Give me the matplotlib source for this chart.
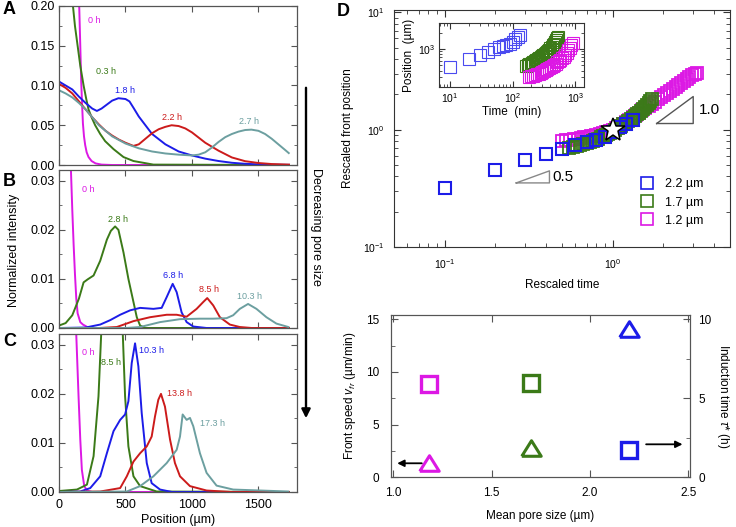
import matplotlib
matplotlib.use('Agg')
import matplotlib.pyplot as plt
from matplotlib.ticker import MultipleLocator, FormatStrFormatter, NullFormatter
from matplotlib.lines import Line2D

plt.rcParams['font.family'] = ['Liberation Sans', 'DejaVu Sans']
plt.rcParams['mathtext.fontset'] = 'custom'
plt.rcParams['mathtext.rm'] = 'Liberation Sans'
plt.rcParams['mathtext.it'] = 'Liberation Sans:italic'
plt.rcParams['mathtext.bf'] = 'Liberation Sans:bold'

# ---------------- data: panel A (profiles, large pores) ----------------
A_labels = ['0 h', '0.3 h', '1.8 h', '2.2 h', '2.7 h']
A_x_0h = [0, 60, 100, 130, 152, 160, 167, 174, 180, 188, 197, 208, 222, 245, 275, 320, 400, 1730]
A_y_0h = [1.2, 0.6, 0.40, 0.27, 0.20, 0.15, 0.105, 0.075, 0.052, 0.036, 0.025, 0.016, 0.01, 0.005, 0.002, 0.0005, 0, 0]
A_x_03h = [0, 50, 80, 105, 120, 140, 160, 185, 205, 222, 245, 272, 310, 347, 410, 485, 560, 710, 1730]
A_y_03h = [0.6, 0.4, 0.28, 0.20, 0.175, 0.15, 0.125, 0.10, 0.083, 0.07, 0.06, 0.05, 0.039, 0.03, 0.02, 0.01, 0.005, 0.0005, 0.0]
A_x_18h = [0, 50, 100, 150, 200, 250, 285, 320, 360, 400, 447, 500, 530, 560, 600, 650, 700, 800, 900, 1000, 1100, 1200, 1300, 1400, 1500, 1600, 1730]
A_y_18h = [0.105, 0.1, 0.095, 0.086, 0.078, 0.071, 0.068, 0.071, 0.076, 0.081, 0.084, 0.083, 0.08, 0.072, 0.061, 0.05, 0.039, 0.026, 0.017, 0.012, 0.008, 0.005, 0.0028, 0.0015, 0.0008, 0.0004, 0.0002]
A_x_22h = [0, 50, 100, 150, 200, 250, 300, 350, 400, 450, 500, 560, 600, 650, 700, 750, 800, 847, 900, 950, 1000, 1100, 1200, 1300, 1400, 1500, 1600, 1730]
A_y_22h = [0.102, 0.097, 0.09, 0.08, 0.07, 0.06, 0.051, 0.043, 0.037, 0.032, 0.028, 0.024, 0.026, 0.033, 0.04, 0.045, 0.048, 0.05, 0.049, 0.046, 0.041, 0.028, 0.018, 0.0095, 0.0048, 0.0025, 0.0012, 0.0005]
A_x_27h = [0, 50, 100, 150, 200, 250, 300, 400, 500, 600, 700, 800, 900, 1000, 1050, 1100, 1150, 1200, 1250, 1300, 1350, 1400, 1447, 1500, 1550, 1600, 1650, 1700, 1728]
A_y_27h = [0.094, 0.09, 0.085, 0.078, 0.07, 0.06, 0.05, 0.036, 0.027, 0.021, 0.017, 0.0145, 0.013, 0.012, 0.013, 0.016, 0.022, 0.029, 0.035, 0.039, 0.042, 0.044, 0.0445, 0.043, 0.039, 0.033, 0.026, 0.019, 0.015]

# ---------------- data: panel B ----------------
B_labels = ['0 h', '2.8 h', '6.8 h', '8.5 h', '10.3 h']
B_x_0h = [0, 60, 80, 90, 100, 110, 120, 130, 140, 160, 180, 200, 225, 300, 1730]
B_y_0h = [0.15, 0.05, 0.038, 0.032, 0.024, 0.017, 0.011, 0.006, 0.003, 0.0012, 0.0007, 0.0004, 0.0, 0.0, 0.0]
B_x_28h = [0, 50, 100, 150, 185, 215, 260, 310, 360, 390, 422, 447, 485, 522, 560, 585, 610, 650, 1730]
B_y_28h = [0.0005, 0.001, 0.0026, 0.006, 0.0093, 0.0099, 0.0107, 0.0137, 0.018, 0.0198, 0.0207, 0.02, 0.0154, 0.01, 0.0053, 0.0022, 0.0005, 0.0, 0.0]
B_x_68h = [0, 200, 310, 385, 460, 535, 610, 710, 772, 810, 855, 885, 922, 960, 1010, 1110, 1730]
B_y_68h = [0, 0.0001, 0.0007, 0.0016, 0.0027, 0.0036, 0.0041, 0.0039, 0.0041, 0.0063, 0.009, 0.0073, 0.0032, 0.0012, 0.0003, 0.0, 0.0]
B_x_85h = [0, 300, 435, 560, 685, 810, 885, 960, 1035, 1085, 1115, 1160, 1210, 1285, 1360, 1450, 1730]
B_y_85h = [0, 0, 0.0002, 0.0014, 0.0022, 0.0027, 0.0027, 0.0023, 0.0039, 0.0053, 0.0061, 0.0046, 0.0022, 0.0007, 0.0002, 0.0, 0.0]
B_x_103h = [0, 500, 610, 760, 910, 1060, 1160, 1260, 1310, 1360, 1422, 1485, 1560, 1635, 1725]
B_y_103h = [0, 0, 0.0002, 0.0012, 0.0018, 0.0019, 0.0019, 0.002, 0.0026, 0.0039, 0.0049, 0.0039, 0.0022, 0.0009, 0.0002]

# ---------------- data: panel C ----------------
C_labels = ['0 h', '8.5 h', '10.3 h', '13.8 h', '17.3 h']
C_x_0h = [0, 80, 110, 130, 147, 160, 172, 190, 210, 250, 1730]
C_y_0h = [0.2, 0.08, 0.045, 0.032, 0.0195, 0.0107, 0.0045, 0.0012, 0.0003, 0.0, 0.0]
C_x_85h = [0, 135, 210, 260, 297, 317, 350, 400, 450, 480, 497, 522, 560, 610, 735, 1730]
C_y_85h = [0.0002, 0.0005, 0.0015, 0.0073, 0.0195, 0.032, 0.05, 0.06, 0.05, 0.032, 0.0195, 0.0093, 0.0032, 0.0012, 0.0001, 0.0]
C_x_103h = [0, 160, 235, 310, 360, 410, 460, 497, 522, 547, 572, 597, 622, 660, 697, 760, 850, 1730]
C_y_103h = [0, 0.0001, 0.0008, 0.0032, 0.0079, 0.0124, 0.0147, 0.0158, 0.0185, 0.0263, 0.0303, 0.0256, 0.0161, 0.0059, 0.0018, 0.0005, 0.0, 0.0]
C_x_138h = [0, 310, 460, 510, 560, 610, 660, 697, 722, 747, 767, 797, 835, 872, 910, 985, 1110, 1300, 1730]
C_y_138h = [0, 0.0001, 0.0008, 0.0032, 0.0062, 0.0079, 0.0093, 0.0113, 0.0154, 0.0188, 0.02, 0.0174, 0.0107, 0.0059, 0.0032, 0.0012, 0.0003, 0.0, 0.0]
C_x_173h = [0, 510, 610, 710, 810, 885, 910, 930, 960, 985, 1010, 1060, 1110, 1185, 1310, 1725]
C_y_173h = [0, 0.0001, 0.0012, 0.0032, 0.0059, 0.0086, 0.0113, 0.0158, 0.0147, 0.0151, 0.0134, 0.0079, 0.0039, 0.0013, 0.0005, 0.0001]

# ---------------- data: panel D (rescaled front) ----------------
D_labels = ['2.2 \u00b5m', '1.7 \u00b5m', '1.2 \u00b5m']
D_t_blue = [0.1, 0.2, 0.3, 0.4, 0.5, 0.6, 0.7, 0.8, 0.9, 1.0, 1.1, 1.2, 1.33]
D_y_blue = [0.32, 0.45, 0.55, 0.62, 0.69, 0.74, 0.78, 0.82, 0.87, 0.95, 1.05, 1.13, 1.22]
D_t_green = [0.55, 0.58, 0.61, 0.64, 0.67, 0.70, 0.73, 0.76, 0.79, 0.82, 0.85, 0.88, 0.91, 0.94, 0.97, 1.00, 1.04, 1.08,
             1.12, 1.16, 1.20, 1.24, 1.28, 1.32, 1.36, 1.40, 1.44, 1.48, 1.52, 1.56, 1.60, 1.64, 1.68, 1.72]
D_y_green = [0.70, 0.71, 0.72, 0.74, 0.75, 0.77, 0.78, 0.80, 0.82, 0.84, 0.86, 0.88, 0.90, 0.92, 0.94, 0.96, 0.99, 1.03,
             1.07, 1.11, 1.15, 1.19, 1.23, 1.27, 1.31, 1.36, 1.40, 1.45, 1.50, 1.55, 1.62, 1.68, 1.75, 1.82]
D_t_mag = [0.50, 0.53, 0.56, 0.59, 0.62, 0.65, 0.68, 0.71, 0.74, 0.77, 0.80, 0.84, 0.88, 0.92, 0.96, 1.00, 1.05, 1.10,
           1.15, 1.20, 1.26, 1.32, 1.38, 1.44, 1.50, 1.57, 1.64, 1.71, 1.78, 1.86, 1.94, 2.02, 2.10, 2.19, 2.28, 2.37,
           2.46, 2.56, 2.66, 2.76, 2.86, 2.97, 3.08, 3.20]
D_y_mag = [0.80, 0.81, 0.82, 0.83, 0.84, 0.85, 0.86, 0.87, 0.88, 0.89, 0.90, 0.92, 0.94, 0.96, 0.98, 1.00, 1.04, 1.08,
           1.12, 1.17, 1.22, 1.28, 1.34, 1.40, 1.46, 1.53, 1.60, 1.67, 1.74, 1.82, 1.90, 1.98, 2.06, 2.15, 2.24, 2.33,
           2.42, 2.52, 2.62, 2.72, 2.82, 2.93, 3.00, 3.05]
D_star_t = [1.0]
D_star_y = [1.0]
slope_half_x = [0.267, 0.421, 0.421, 0.267]
slope_half_y = [0.352, 0.352, 0.446, 0.352]
slope_one_x = [1.83, 3.02, 3.02, 1.83]
slope_one_y = [1.13, 1.13, 1.92, 1.13]

# inset: raw front position vs time
I_t_blue = [10, 20, 30, 40, 50, 60, 70, 80, 90, 100, 110, 120, 130]
I_p_blue = [460, 650, 790, 890, 990, 1070, 1130, 1190, 1260, 1370, 1520, 1640, 1770]
I_t_green = [165, 175, 185, 195, 205, 215, 225, 235, 245, 255, 265, 280, 295, 310, 325, 340, 355, 370, 385, 400, 420,
             440, 460, 480, 500, 520, 540]
I_p_green = [480, 500, 520, 540, 560, 580, 600, 620, 640, 660, 680, 710, 745, 780, 815, 850, 890, 930, 975, 1020, 1090,
             1170, 1260, 1360, 1460, 1560, 1665]
I_t_mag = [185, 200, 215, 230, 245, 260, 280, 300, 320, 340, 360, 385, 410, 435, 460, 490, 520, 550, 580, 615, 650, 690,
           730, 770, 815, 860, 906]
I_p_mag = [311, 318, 325, 333, 341, 350, 362, 375, 390, 405, 420, 440, 462, 485, 510, 540, 572, 606, 640, 680, 725, 780,
           840, 960, 1060, 1170, 1290]

# ---------------- data: panel E ----------------
E_pore = [1.18, 1.70, 2.20]
E_speed = [1.38, 2.81, 14.03]
E_induction = [5.89, 5.95, 1.73]

MAG = '#dc18e4'
GRN = '#3b7a18'
BLU = '#1c1ce8'
RED = '#cc1b1b'
TEAL = '#6c9fa0'
SP = '#555555'

W, H = 736, 527
fig = plt.figure(figsize=(W / 100, H / 100), dpi=100)


def add_ax(l, t, r, b):
    return fig.add_axes([l / W, 1 - b / H, (r - l) / W, (b - t) / H])


def style_profile(ax, ymax, major, minor, show_x):
    ax.set_xlim(0, 1790)
    ax.set_ylim(0, ymax)
    ax.xaxis.set_major_locator(MultipleLocator(500))
    ax.yaxis.set_major_locator(MultipleLocator(major))
    ax.yaxis.set_minor_locator(MultipleLocator(minor))
    ax.yaxis.set_major_formatter(FormatStrFormatter('%.2f'))
    ax.tick_params(which='both', direction='in', top=True, right=True, color=SP, labelsize=9)
    ax.tick_params(axis='x', pad=5)
    ax.tick_params(axis='y', pad=3)
    ax.tick_params(which='major', length=4.5)
    ax.tick_params(which='minor', length=2.5)
    for s in ax.spines.values():
        s.set_color(SP)
        s.set_linewidth(0.9)
    if not show_x:
        ax.tick_params(labelbottom=False)


colors5 = [MAG, GRN, BLU, RED, TEAL]
LW = 1.4

# Panel A
axA = add_ax(59, 6, 297, 165)
for xs, ys, c in zip([A_x_0h, A_x_03h, A_x_18h, A_x_22h, A_x_27h],
                     [A_y_0h, A_y_03h, A_y_18h, A_y_22h, A_y_27h], colors5):
    axA.plot(xs, ys, color=c, lw=LW)
style_profile(axA, 0.20, 0.05, 0.025, False)
for lab, (x, y), c in zip(A_labels, [(215, 0.182), (277, 0.118), (422, 0.0936), (777, 0.0596), (1355, 0.0545)], colors5):
    axA.text(x, y, lab, color=c, fontsize=6.5, ha='left', va='center')

# Panel B
axB = add_ax(59, 170, 297, 328)
for xs, ys, c in zip([B_x_0h, B_x_28h, B_x_68h, B_x_85h, B_x_103h],
                     [B_y_0h, B_y_28h, B_y_68h, B_y_85h, B_y_103h], colors5):
    axB.plot(xs, ys, color=c, lw=LW)
style_profile(axB, 0.0322, 0.01, 0.005, False)
for lab, (x, y), c in zip(B_labels, [(172, 0.0282), (372, 0.0222), (785, 0.0108), (1055, 0.0078), (1340, 0.0064)], colors5):
    axB.text(x, y, lab, color=c, fontsize=6.5, ha='left', va='center')

# Panel C
axC = add_ax(59, 334, 297, 492)
for xs, ys, c in zip([C_x_0h, C_x_85h, C_x_103h, C_x_138h, C_x_173h],
                     [C_y_0h, C_y_85h, C_y_103h, C_y_138h, C_y_173h], colors5):
    axC.plot(xs, ys, color=c, lw=LW)
style_profile(axC, 0.0322, 0.01, 0.005, True)
axC.set_xlabel('Position (\u00b5m)', fontsize=9, labelpad=2)
for lab, (x, y), c in zip(C_labels, [(172, 0.0285), (317, 0.0263), (605, 0.0289), (815, 0.0200), (1060, 0.0140)], colors5):
    axC.text(x, y, lab, color=c, fontsize=6.5, ha='left', va='center')

fig.text(14 / W, 1 - 250 / H, 'Normalized intensity', rotation=90, ha='center', va='center', fontsize=9)
fig.text(3 / W, 1 - 10 / H, 'A', fontsize=13, fontweight='bold', ha='left', va='center')
fig.text(3 / W, 1 - 182 / H, 'B', fontsize=13, fontweight='bold', ha='left', va='center')
fig.text(3 / W, 1 - 341 / H, 'C', fontsize=13, fontweight='bold', ha='left', va='center')
fig.text(337 / W, 1 - 11 / H, 'D', fontsize=13, fontweight='bold', ha='left', va='center')

# Decreasing pore size arrow
fig.add_artist(matplotlib.patches.FancyArrowPatch((306 / W, 1 - 85 / H), (306 / W, 1 - 421 / H),
                                                   transform=fig.transFigure, arrowstyle='-|>',
                                                   mutation_scale=13, lw=1.7, color='k'))
fig.text(316 / W, 1 - 227 / H, 'Decreasing pore size', rotation=-90, ha='center', va='center', fontsize=9)

# Panel D
axD = add_ax(394, 10, 730, 247)
axD.set_xscale('log')
axD.set_yscale('log')
axD.plot(D_t_mag, D_y_mag, 's', mfc='none', mec=MAG, ms=9, mew=1.3, ls='none')
axD.plot(D_t_green, D_y_green, 's', mfc='none', mec=GRN, ms=9, mew=1.3, ls='none')
axD.plot(D_t_blue, D_y_blue, 's', mfc='none', mec=BLU, ms=9, mew=1.5, ls='none')
axD.plot(D_star_t, D_star_y, '*', mfc='white', mec='k', ms=18, mew=1.1, ls='none')
axD.plot(slope_half_x, slope_half_y, color='#888888', lw=1.0)
axD.plot(slope_one_x, slope_one_y, color='#555555', lw=1.0)
axD.text(0.44, 0.395, '0.5', fontsize=11, ha='left', va='center')
axD.text(3.25, 1.47, '1.0', fontsize=11, ha='left', va='center')
axD.set_xlim(0.05, 5)
axD.set_ylim(0.1, 10.5)
axD.tick_params(which='both', direction='in', top=True, right=True, color='#333333', labelsize=7.5, pad=7)
axD.tick_params(which='major', length=5)
axD.tick_params(which='minor', length=3)
axD.xaxis.set_minor_formatter(NullFormatter())
axD.yaxis.set_minor_formatter(NullFormatter())
for s in axD.spines.values():
    s.set_color('#333333')
axD.set_xlabel('Rescaled time', fontsize=8.5, labelpad=6)
axD.set_ylabel('Rescaled front position', fontsize=8.5, labelpad=6)
handles = [Line2D([], [], marker='s', mfc='none', mec=c, ms=8.5, mew=1.2, ls='none') for c in [BLU, GRN, MAG]]
axD.legend(handles, D_labels, loc='upper left', bbox_to_anchor=(0.735, 0.29), frameon=False, fontsize=9,
           handlelength=1.0, handletextpad=0.9, labelspacing=0.5, borderpad=0, borderaxespad=0)

# Inset
axI = add_ax(439, 23, 584, 87)
axI.set_xscale('log')
axI.set_yscale('log')
axI.plot(I_t_blue, I_p_blue, 's', mfc='none', mec='#4a4af0', ms=8.3, mew=0.8, ls='none')
axI.plot(I_t_green, I_p_green, 's', mfc='none', mec=GRN, ms=8.3, mew=0.8, ls='none')
axI.plot(I_t_mag, I_p_mag, 's', mfc='none', mec=MAG, ms=8.3, mew=0.8, ls='none')
axI.set_xlim(6.7, 1380)
axI.set_ylim(200, 3000)
axI.tick_params(which='both', direction='in', top=True, right=True, color='#333333', labelsize=7.5, pad=3)
axI.tick_params(which='major', length=4)
axI.tick_params(which='minor', length=2)
axI.xaxis.set_minor_formatter(NullFormatter())
axI.yaxis.set_minor_formatter(NullFormatter())
axI.set_xlabel('Time  (min)', fontsize=8.5, labelpad=1)
axI.set_ylabel('Position  (\u00b5m)', fontsize=8.5, labelpad=2)
for s in axI.spines.values():
    s.set_color('#333333')

# Panel E
axE = add_ax(390.7, 315, 690, 477.3)
axE2 = axE.twinx()
tri = [(-1, -0.8), (1, -0.8), (0, 0.8), (-1, -0.8)]
for x, s, c in zip(E_pore, E_speed, [MAG, GRN, BLU]):
    axE.plot([x], [s], marker=tri, mfc='none', mec=c, ms=14, mew=2.2, ls='none')
for x, t, c in zip(E_pore, E_induction, [MAG, GRN, BLU]):
    axE2.plot([x], [t], marker='s', mfc='none', mec=c, ms=12, mew=2.4, ls='none')
axE.set_xlim(0.987, 2.508)
axE.set_ylim(0, 15.4)
axE2.set_ylim(0, 10.27)
axE.xaxis.set_major_locator(MultipleLocator(0.5))
axE.xaxis.set_major_formatter(FormatStrFormatter('%.1f'))
axE.yaxis.set_major_locator(MultipleLocator(5))
axE.yaxis.set_minor_locator(MultipleLocator(2.5))
axE2.yaxis.set_major_locator(MultipleLocator(5))
axE2.yaxis.set_minor_locator(MultipleLocator(2.5))
axE.tick_params(which='both', direction='in', top=True, color=SP, labelsize=8.5)
axE.tick_params(axis='x', pad=7)
axE.tick_params(axis='y', pad=8)
axE.tick_params(which='major', length=5)
axE.tick_params(which='minor', length=3)
axE2.tick_params(which='both', direction='in', color=SP, labelsize=8.5, pad=6)
axE2.tick_params(which='major', length=5)
axE2.tick_params(which='minor', length=3)
for a in (axE, axE2):
    for s in a.spines.values():
        s.set_color(SP)
axE.set_xlabel('Mean pore size (\u00b5m)', fontsize=8.5, labelpad=8)
axE.set_ylabel('Front speed $v_{fr}$ (\u00b5m/min)', fontsize=8.5, labelpad=6)
axE2.set_ylabel('Induction time $\\tau$* (h)', fontsize=8.5, rotation=-90, labelpad=14)
axE.annotate('', xy=(1.02, 1.33), xytext=(1.145, 1.33),
             arrowprops=dict(arrowstyle='-|>', lw=1.3, color='k', mutation_scale=10, shrinkA=0, shrinkB=0))
axE.annotate('', xy=(2.47, 3.13), xytext=(2.285, 3.13),
             arrowprops=dict(arrowstyle='-|>', lw=1.3, color='k', mutation_scale=10, shrinkA=0, shrinkB=0))

fig.savefig('out.png', dpi=100)
